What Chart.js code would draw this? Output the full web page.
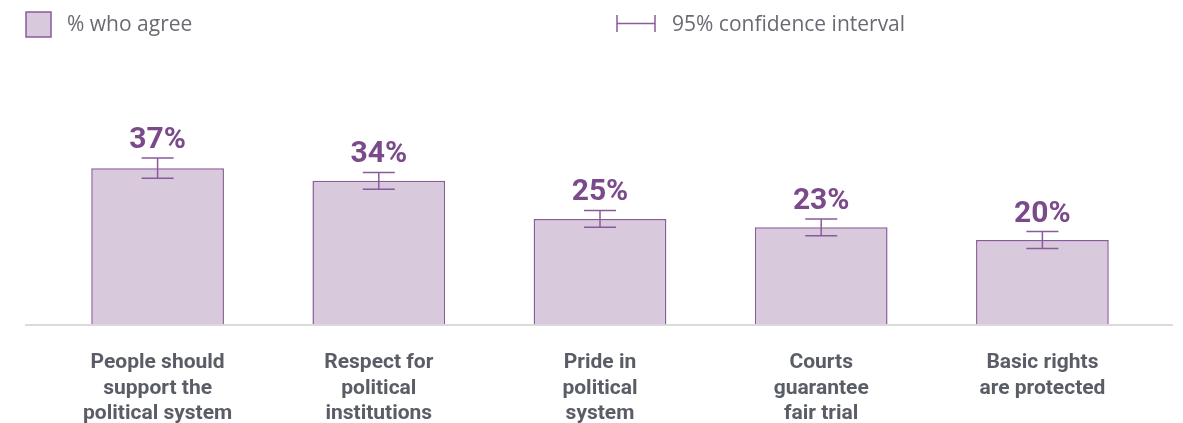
<!DOCTYPE html>
<html>
<head>
<meta charset="utf-8">
<script src="https://cdn.jsdelivr.net/npm/chart.js@4"></script>
<style>
  body { margin: 0; background: #fff; }
  #wrap { width: 1183px; height: 423px; position: relative; }
</style>
</head>
<body>
<div id="wrap"><canvas id="chart"></canvas></div>
<script>
const categories = [
  ['People should', 'support the', 'political system'],
  ['Respect for', 'political', 'institutions'],
  ['Pride in', 'political', 'system'],
  ['Courts', 'guarantee', 'fair trial'],
  ['Basic rights', 'are protected']
];
const agree = [37, 34, 25, 23, 20];
const ciLow = [34.6, 32, 23, 21, 18];
const ciHigh = [39.4, 36, 27, 25, 22];

const PURPLE = '#8a5b9b';
const LABEL_PURPLE = '#7b4a8b';
const FILL = '#d8c9dd';
const GREY_TEXT = '#5a5d66';

// error bars, value labels, baseline and legend
const extras = {
  id: 'extras',
  afterDatasetsDraw(chart) {
    const ctx = chart.ctx;
    const x = chart.scales.x;
    const y = chart.scales.y;
    const area = chart.chartArea;
    ctx.save();

    // baseline
    ctx.strokeStyle = '#cfcfcf';
    ctx.lineWidth = 1.5;
    ctx.beginPath();
    ctx.moveTo(area.left - 22, y.getPixelForValue(0) + 0.5);
    ctx.lineTo(area.right + 20, y.getPixelForValue(0) + 0.5);
    ctx.stroke();

    agree.forEach((v, i) => {
      const cx = x.getPixelForValue(i);
      const top = y.getPixelForValue(ciHigh[i]);
      const bot = y.getPixelForValue(ciLow[i]);
      ctx.strokeStyle = PURPLE;
      ctx.lineWidth = 1.5;
      ctx.beginPath();
      ctx.moveTo(cx, top); ctx.lineTo(cx, bot);
      ctx.moveTo(cx - 16, top); ctx.lineTo(cx + 16, top);
      ctx.moveTo(cx - 16, bot); ctx.lineTo(cx + 16, bot);
      ctx.stroke();

      ctx.fillStyle = LABEL_PURPLE;
      ctx.font = 'bold 30px Roboto';
      ctx.textAlign = 'center';
      ctx.textBaseline = 'alphabetic';
      ctx.fillText(v + '%', cx, top - 10);
    });

    // legend
    ctx.fillStyle = FILL;
    ctx.fillRect(26, 12, 25, 25);
    ctx.strokeStyle = PURPLE;
    ctx.lineWidth = 1.5;
    ctx.strokeRect(26, 12, 25, 25);
    ctx.fillStyle = '#6a6b72';
    ctx.font = '21px "Open Sans"';
    ctx.textAlign = 'left';
    ctx.textBaseline = 'middle';
    ctx.fillText('% who agree', 67, 25);

    ctx.beginPath();
    ctx.moveTo(617, 15); ctx.lineTo(617, 32);
    ctx.moveTo(655, 15); ctx.lineTo(655, 32);
    ctx.moveTo(617, 23.5); ctx.lineTo(655, 23.5);
    ctx.stroke();
    ctx.fillText('95% confidence interval', 672, 25);

    ctx.restore();
  }
};

new Chart(document.getElementById('chart'), {
  type: 'bar',
  data: {
    labels: categories,
    datasets: [{
      label: '% who agree',
      data: agree,
      backgroundColor: FILL,
      borderColor: PURPLE,
      borderWidth: 1.5,
      categoryPercentage: 1,
      barPercentage: 0.6
    }]
  },
  options: {
    responsive: true,
    maintainAspectRatio: false,
    animation: false,
    layout: { padding: { top: 71, left: 47, right: 30, bottom: 0 } },
    scales: {
      x: {
        grid: { display: false, drawTicks: false },
        border: { display: false },
        afterFit(scale) { scale.height = 98.5; },
        ticks: {
          color: GREY_TEXT,
          font: { family: 'Roboto', weight: 'bold', size: 21, lineHeight: 1.21 },
          padding: 26,
          maxRotation: 0,
          autoSkip: false
        }
      },
      y: {
        display: false,
        min: 0,
        max: 60
      }
    },
    plugins: {
      legend: { display: false },
      tooltip: { enabled: false }
    }
  },
  plugins: [extras]
});
</script>
</body>
</html>
